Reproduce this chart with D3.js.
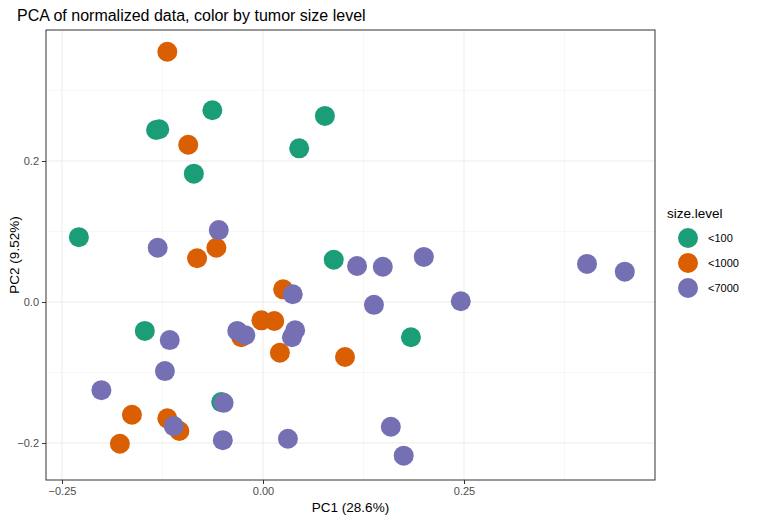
<!DOCTYPE html>
<html><head><meta charset="utf-8">
<script src="https://cdn.jsdelivr.net/npm/d3@7"></script>
<style>body{margin:0;background:#fff}text{font-family:Arial,"Liberation Sans",sans-serif}</style>
</head><body>
<script>
var levels = ['<100', '<1000', '<7000'];
var colors = ['#1B9E77', '#D95F02', '#7570B3'];
var pc1_100 = [-0.063,-0.133,-0.129,-0.086,0.077,0.045,-0.229,0.088,-0.147,0.184,-0.052];
var pc2_100 = [0.272,0.244,0.245,0.182,0.264,0.218,0.092,0.060,-0.041,-0.050,-0.142];
var pc1_1000 = [-0.119,-0.093,-0.058,-0.082,0.025,-0.002,0.014,-0.027,0.021,0.102,-0.163,-0.119,-0.104,-0.178];
var pc2_1000 = [0.355,0.223,0.077,0.062,0.018,-0.026,-0.027,-0.050,-0.072,-0.078,-0.160,-0.165,-0.183,-0.201];
var pc1_7000 = [-0.055,-0.131,0.037,0.117,0.149,0.200,0.403,0.450,0.246,0.138,0.040,0.036,-0.032,-0.022,-0.116,-0.122,-0.201,-0.111,-0.049,-0.050,0.031,0.159,0.175];
var pc2_7000 = [0.102,0.077,0.011,0.051,0.050,0.064,0.054,0.043,0.001,-0.004,-0.040,-0.050,-0.041,-0.047,-0.054,-0.098,-0.125,-0.176,-0.143,-0.196,-0.194,-0.177,-0.218];
var xTicks = [-0.25, 0, 0.25];
var yTicks = [-0.2, 0, 0.2];

var points = [];
[[pc1_100,pc2_100],[pc1_1000,pc2_1000],[pc1_7000,pc2_7000]].forEach(function(s, i) {
  s[0].forEach(function(v, j) { points.push({x: v, y: s[1][j], g: i}); });
});

var W = 759, H = 522, L = 46, R = 655, T = 30, B = 480;
var svg = d3.select('body').append('svg').attr('width', W).attr('height', H);
var x = d3.scaleLinear().domain([-0.25, 0.25]).range([62, 464]);
var y = d3.scaleLinear().domain([-0.2, 0.2]).range([443, 161]);

svg.append('rect').attr('x', L).attr('y', T).attr('width', R - L).attr('height', B - T).attr('fill', '#fff');
var minorX = [-0.125, 0.125, 0.375], minorY = [-0.1, 0.1, 0.3];
minorX.forEach(function(v){ svg.append('line').attr('x1', x(v)).attr('x2', x(v)).attr('y1', T).attr('y2', B).attr('stroke', '#f2f2f2').attr('stroke-width', 0.6); });
minorY.forEach(function(v){ svg.append('line').attr('y1', y(v)).attr('y2', y(v)).attr('x1', L).attr('x2', R).attr('stroke', '#f2f2f2').attr('stroke-width', 0.6); });
xTicks.forEach(function(v){ svg.append('line').attr('x1', x(v)).attr('x2', x(v)).attr('y1', T).attr('y2', B).attr('stroke', '#ebebeb').attr('stroke-width', 1); });
yTicks.forEach(function(v){ svg.append('line').attr('y1', y(v)).attr('y2', y(v)).attr('x1', L).attr('x2', R).attr('stroke', '#ebebeb').attr('stroke-width', 1); });

svg.selectAll('circle.pt').data(points).enter().append('circle')
  .attr('cx', function(d){ return x(d.x); }).attr('cy', function(d){ return y(d.y); })
  .attr('r', 10).attr('fill', function(d){ return colors[d.g]; });

svg.append('rect').attr('x', L).attr('y', T).attr('width', R - L).attr('height', B - T)
  .attr('fill', 'none').attr('stroke', '#333').attr('stroke-width', 1);

var xa = svg.append('g').attr('transform', 'translate(0,' + B + ')')
  .call(d3.axisBottom(x).tickValues(xTicks).tickSize(4).tickFormat(d3.format('.2f')));
var ya = svg.append('g').attr('transform', 'translate(' + L + ',0)')
  .call(d3.axisLeft(y).tickValues(yTicks).tickSize(4).tickFormat(d3.format('.1f')));
[xa, ya].forEach(function(a){
  a.select('.domain').remove();
  a.selectAll('line').attr('stroke', '#333');
  a.selectAll('text').attr('fill', '#4d4d4d').style('font-size', '11px');
});

svg.append('text').attr('x', 17).attr('y', 21).style('font-size', '16px').attr('fill', '#000')
  .text('PCA of normalized data, color by tumor size level');
svg.append('text').attr('x', (L + R) / 2).attr('y', 512).attr('text-anchor', 'middle').style('font-size', '13.5px').text('PC1 (28.6%)');
svg.append('text').attr('transform', 'translate(19,' + ((T + B) / 2) + ') rotate(-90)').attr('text-anchor', 'middle').style('font-size', '13.5px').text('PC2 (9.52%)');

svg.append('text').attr('x', 667).attr('y', 218).style('font-size', '13.5px').text('size.level');
levels.forEach(function(l, i) {
  var cy = 238 + i * 25;
  svg.append('circle').attr('cx', 688).attr('cy', cy).attr('r', 10).attr('fill', colors[i]);
  svg.append('text').attr('x', 708).attr('y', cy + 4).style('font-size', '11px').text(l);
});
</script>
</body></html>
